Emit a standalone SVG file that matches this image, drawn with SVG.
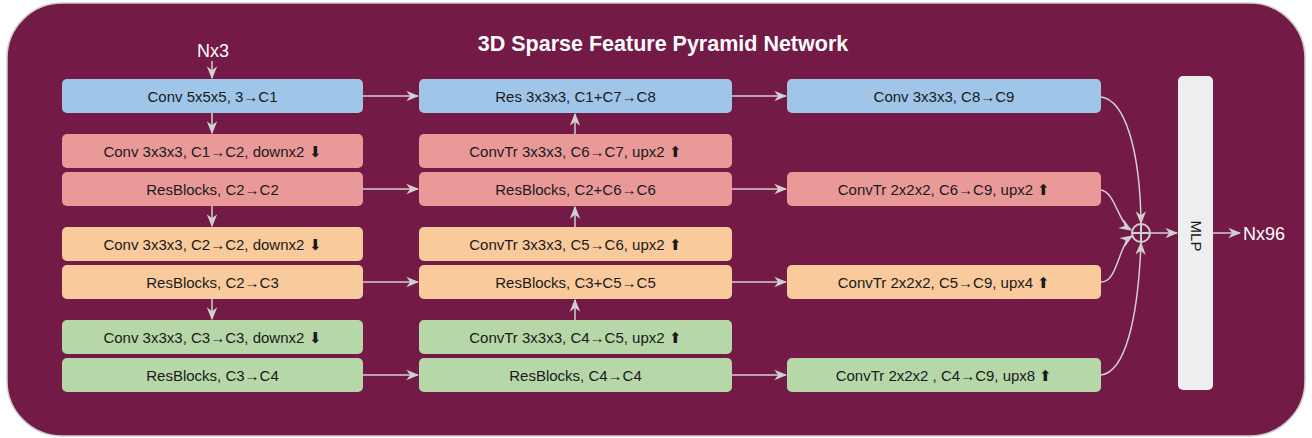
<svg xmlns="http://www.w3.org/2000/svg" width="1312" height="438" viewBox="0 0 1312 438">
<style>
.bg{fill:#731A46;stroke:#CFCFCF;stroke-width:1.5}
.box{stroke:none}
.blue{fill:#9FC5E8}.red{fill:#EA9999}.orange{fill:#F9CB9C}.green{fill:#B6D7A8}
.t{font-family:"Liberation Sans",Arial,sans-serif;font-size:15px;fill:#1a1a1a;text-anchor:middle;dominant-baseline:central}
.w{font-family:"Liberation Sans",Arial,sans-serif;font-size:18px;fill:#ffffff;dominant-baseline:central}
.title{font-family:"Liberation Sans",Arial,sans-serif;font-size:21.5px;font-weight:bold;fill:#ffffff;text-anchor:middle;dominant-baseline:central}
.c{fill:none;stroke:#D0D0D0;stroke-width:1.5;marker-end:url(#ah)}
</style>
<defs>
<marker id="ah" viewBox="0 0 10 10" refX="9" refY="5" markerWidth="13" markerHeight="13" markerUnits="userSpaceOnUse" orient="auto">
<path d="M0,1 L10,5 L0,9 L3,5 Z" fill="#D0D0D0"/>
</marker>
</defs>
<rect class="bg" x="7" y="3" width="1298" height="433" rx="55"/>
<text class="title" x="663" y="44">3D Sparse Feature Pyramid Network</text>
<text class="w" x="213" y="51" text-anchor="middle">Nx3</text>

<g id="connectors">
<path class="c" d="M212,61 L212,78"/>
<path class="c" d="M212,113 L212,133"/>
<path class="c" d="M212,206 L212,226"/>
<path class="c" d="M212,299 L212,319"/>
<path class="c" d="M575,134 L575,114"/>
<path class="c" d="M575,227 L575,207"/>
<path class="c" d="M575,320 L575,300"/>
<path class="c" d="M363,96 L418,96"/>
<path class="c" d="M363,189 L418,189"/>
<path class="c" d="M363,282 L418,282"/>
<path class="c" d="M363,375 L418,375"/>
<path class="c" d="M732,96 L786,96"/>
<path class="c" d="M732,189 L786,189"/>
<path class="c" d="M732,282 L786,282"/>
<path class="c" d="M732,375 L786,375"/>
<path class="c" d="M1101,97 C1125,100 1140,150 1141,223"/>
<path class="c" d="M1101,190 C1115,192 1118,222 1131,230"/>
<path class="c" d="M1101,282 C1118,282 1118,245 1132,236"/>
<path class="c" d="M1101,375 C1125,372 1138,320 1141,243"/>
<path class="c" d="M1150,233 L1177,233"/>
<path class="c" d="M1213,233 L1240,233"/>
</g>

<g id="sum">
<circle cx="1141" cy="233" r="9" fill="none" stroke="#D0D0D0" stroke-width="2"/>
<path d="M1132,233 L1150,233 M1141,224 L1141,242" stroke="#D0D0D0" stroke-width="2"/>
</g>

<g id="mlp">
<rect x="1178" y="76" width="35" height="314" rx="5" fill="#EEEEEE"/>
<text class="t" transform="translate(1196,236) rotate(90)">MLP</text>
</g>
<text class="w" x="1243" y="234">Nx96</text>

<g id="n1"><rect class="box blue" x="62" y="79" width="301" height="34" rx="5"/><text class="t" x="212.5" y="96">Conv 5x5x5, 3→C1</text></g>
<g id="n2"><rect class="box red" x="62" y="134" width="301" height="34" rx="5"/><text class="t" x="212.5" y="151">Conv 3x3x3, C1→C2, downx2 ⬇</text></g>
<g id="n3"><rect class="box red" x="62" y="172" width="301" height="34" rx="5"/><text class="t" x="212.5" y="189">ResBlocks, C2→C2</text></g>
<g id="n4"><rect class="box orange" x="62" y="227" width="301" height="34" rx="5"/><text class="t" x="212.5" y="244">Conv 3x3x3, C2→C2, downx2 ⬇</text></g>
<g id="n5"><rect class="box orange" x="62" y="265" width="301" height="34" rx="5"/><text class="t" x="212.5" y="282">ResBlocks, C2→C3</text></g>
<g id="n6"><rect class="box green" x="62" y="320" width="301" height="34" rx="5"/><text class="t" x="212.5" y="337">Conv 3x3x3, C3→C3, downx2 ⬇</text></g>
<g id="n7"><rect class="box green" x="62" y="358" width="301" height="34" rx="5"/><text class="t" x="212.5" y="375">ResBlocks, C3→C4</text></g>

<g id="m1"><rect class="box blue" x="419" y="79" width="313" height="34" rx="5"/><text class="t" x="575.5" y="96">Res 3x3x3, C1+C7→C8</text></g>
<g id="m2"><rect class="box red" x="419" y="134" width="313" height="34" rx="5"/><text class="t" x="575.5" y="151">ConvTr 3x3x3, C6→C7, upx2 ⬆</text></g>
<g id="m3"><rect class="box red" x="419" y="172" width="313" height="34" rx="5"/><text class="t" x="575.5" y="189">ResBlocks, C2+C6→C6</text></g>
<g id="m4"><rect class="box orange" x="419" y="227" width="313" height="34" rx="5"/><text class="t" x="575.5" y="244">ConvTr 3x3x3, C5→C6, upx2 ⬆</text></g>
<g id="m5"><rect class="box orange" x="419" y="265" width="313" height="34" rx="5"/><text class="t" x="575.5" y="282">ResBlocks, C3+C5→C5</text></g>
<g id="m6"><rect class="box green" x="419" y="320" width="313" height="34" rx="5"/><text class="t" x="575.5" y="337">ConvTr 3x3x3, C4→C5, upx2 ⬆</text></g>
<g id="m7"><rect class="box green" x="419" y="358" width="313" height="34" rx="5"/><text class="t" x="575.5" y="375">ResBlocks, C4→C4</text></g>

<g id="r1"><rect class="box blue" x="787" y="79" width="314" height="34" rx="5"/><text class="t" x="944" y="96">Conv 3x3x3, C8→C9</text></g>
<g id="r2"><rect class="box red" x="787" y="172" width="314" height="34" rx="5"/><text class="t" x="944" y="189">ConvTr 2x2x2, C6→C9, upx2 ⬆</text></g>
<g id="r3"><rect class="box orange" x="787" y="265" width="314" height="34" rx="5"/><text class="t" x="944" y="282">ConvTr 2x2x2, C5→C9, upx4 ⬆</text></g>
<g id="r4"><rect class="box green" x="787" y="358" width="314" height="34" rx="5"/><text class="t" x="944" y="375">ConvTr 2x2x2 , C4→C9, upx8 ⬆</text></g>
</svg>
